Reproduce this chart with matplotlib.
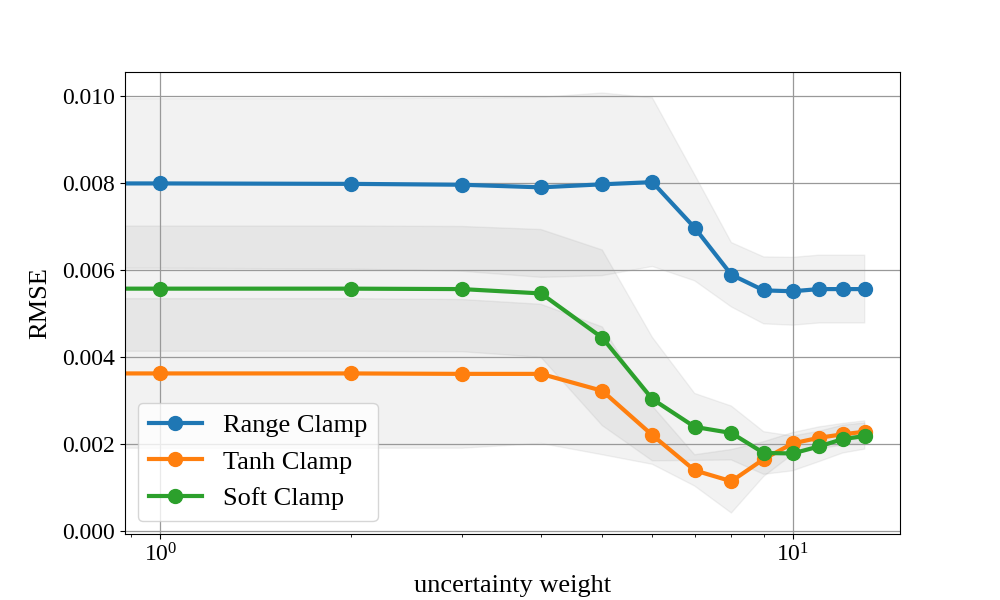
import numpy as np
import matplotlib
matplotlib.use('Agg')
import matplotlib.pyplot as plt

plt.rcParams['font.family'] = ['Liberation Serif', 'DejaVu Serif']
plt.rcParams['mathtext.fontset'] = 'custom'
plt.rcParams['mathtext.rm'] = 'Liberation Serif'
plt.rcParams['mathtext.it'] = 'Liberation Serif:italic'
plt.rcParams['font.size'] = 17

# uncertainty weights (0 is off the log axis, its segment runs in from the left edge)
weights = [0, 1, 2, 3, 4, 5, 6, 7, 8, 9, 10, 11, 12, 13]

range_mean = [0.00800, 0.00800, 0.00799, 0.00797, 0.00791, 0.00798, 0.00803,
              0.00698, 0.00590, 0.00554, 0.00552, 0.00557, 0.00557, 0.00557]
range_std = [0.00195, 0.00195, 0.00196, 0.00199, 0.00207, 0.00210, 0.00194,
             0.00122, 0.00074, 0.00077, 0.00078, 0.00078, 0.00078, 0.00078]

tanh_mean = [0.00363, 0.00363, 0.00363, 0.00362, 0.00362, 0.00323, 0.00221,
             0.00140, 0.00115, 0.00166, 0.00202, 0.00215, 0.00223, 0.00229]
tanh_std = [0.00172, 0.00172, 0.00172, 0.00171, 0.00160, 0.00147, 0.00067,
            0.00036, 0.00073, 0.00040, 0.00025, 0.00025, 0.00025, 0.00025]

soft_mean = [0.00558, 0.00558, 0.00558, 0.00557, 0.00547, 0.00445, 0.00304,
             0.00240, 0.00226, 0.00180, 0.00179, 0.00195, 0.00212, 0.00219]
soft_std = [0.00144, 0.00144, 0.00144, 0.00144, 0.00147, 0.00202, 0.00142,
            0.00077, 0.00062, 0.00049, 0.00040, 0.00035, 0.00032, 0.00030]

series = [
    ('Range Clamp', range_mean, range_std),
    ('Tanh Clamp', tanh_mean, tanh_std),
    ('Soft Clamp', soft_mean, soft_std),
]

fig, ax = plt.subplots(figsize=(10, 6), dpi=100)

for label, mean, std in series:
    m = np.array(mean)
    s = np.array(std)
    ax.plot(weights, m, marker='o', linewidth=3, markersize=10, label=label)
    ax.fill_between(weights, m - s, m + s, color='gray', alpha=0.1)

ax.set_xscale('log')
ax.set_xlim(10 ** -0.0557, 10 ** 1.1697)
ax.set_xlabel('uncertainty weight', fontsize=19, labelpad=6)
ax.set_ylabel('RMSE', fontsize=19, labelpad=8)
ax.grid(True, color='0.6', linewidth=0.9)
ax.legend(loc='lower left', fontsize=19)

fig.savefig('out.png', dpi=100)
